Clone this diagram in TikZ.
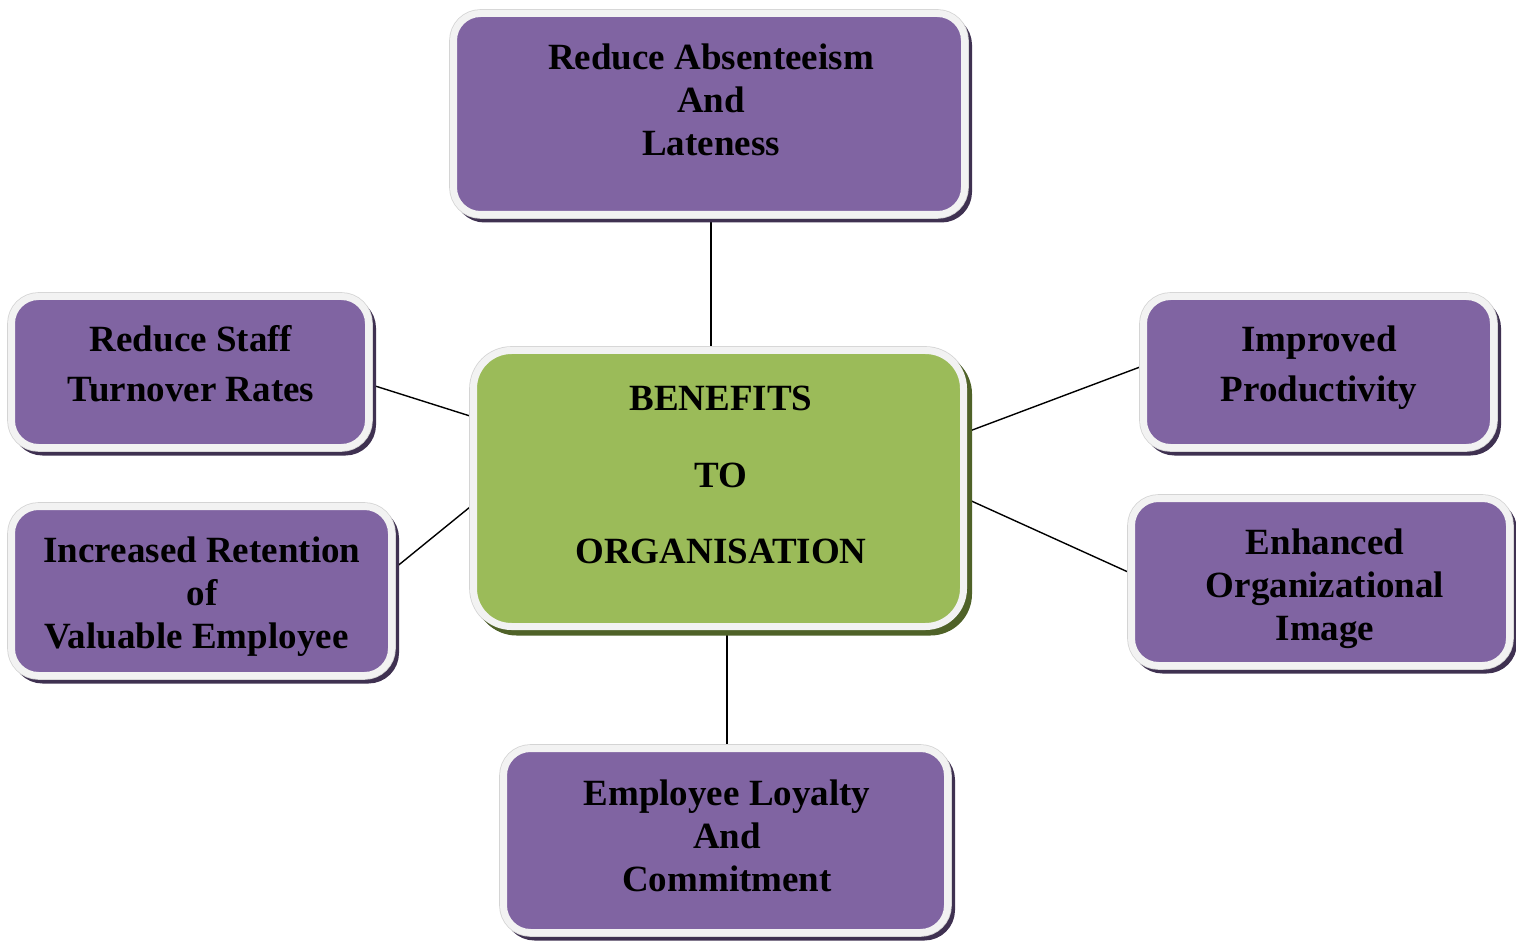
\documentclass[tikz,border=0pt]{standalone}
\usepackage{fontspec}
\setmainfont{Liberation Serif}
\usetikzlibrary{backgrounds}
\definecolor{boxpurple}{HTML}{8064A2}
\definecolor{purpleshadow}{HTML}{3F3151}
\definecolor{boxgreen}{HTML}{9BBB59}
\definecolor{greenshadow}{HTML}{4F6228}
\definecolor{ringcol}{HTML}{F2F2F2}
\definecolor{edgecol}{HTML}{D4D4D4}
\newcommand{\ls}{\rule[-9pt]{0pt}{36pt}}
\tikzset{
  framebox/.style={rectangle, rounded corners=27pt, inner sep=0pt,
    draw=ringcol, line width=7pt,
    preaction={draw=purpleshadow, fill=purpleshadow, line width=7pt,
      transform canvas={shift={(4pt,-4.5pt)}}},
    preaction={draw=edgecol, line width=8.6pt}},
  pbox/.style={framebox, fill=boxpurple},
  gbox/.style={framebox, fill=boxgreen, rounded corners=38pt,
    preaction={draw=greenshadow, fill=greenshadow, line width=7pt,
      transform canvas={shift={(5pt,-5.5pt)}}}},
  txt/.style={align=center, inner sep=0pt, font=\bfseries\fontsize{37}{43}\selectfont},
  ctxt/.style={align=center, inner sep=0pt, font=\bfseries\fontsize{37}{76.5}\selectfont},
  twotxt/.style={align=center, inner sep=0pt, font=\bfseries\fontsize{37}{50}\selectfont},
  link/.style={draw=black, line width=1.4pt}
}
\begin{document}
\begin{tikzpicture}[x=1pt,y=-1pt]
\useasboundingbox (0,0) rectangle (1516,941);
% boxes
\node[pbox, minimum width=511pt, minimum height=201pt] (top) at (709,114) {};
\node[gbox, minimum width=490pt, minimum height=276pt] (ctr) at (718.5,488.5) {};
\node[pbox, minimum width=357pt, minimum height=151pt] (lt) at (190,372) {};
\node[pbox, minimum width=380pt, minimum height=169pt] (lb) at (201.5,591) {};
\node[pbox, minimum width=350pt, minimum height=151pt] (rt) at (1318.5,372) {};
\node[pbox, minimum width=378pt, minimum height=167pt] (rb) at (1320.5,582) {};
\node[pbox, minimum width=444pt, minimum height=184pt] (bot) at (725.5,840.5) {};
% texts
\node[txt] (toptxt) at (711,104) {\ls Reduce Absenteeism\\\ls And\\\ls Lateness};
\node[ctxt] (ctrtxt) at (721,478) {\ls BENEFITS\\\ls TO\\\ls ORGANISATION};
\node[twotxt] (lttxt) at (191,367) {\ls Reduce Staff\\\ls Turnover Rates};
\node[txt] (lbtxt) at (202,596) {\ls Increased Retention\\\ls of\\\ls Valuable Employee\kern11pt\ls};
\node[twotxt] (rttxt) at (1319,367) {\ls Improved\\\ls Productivity};
\node[txt] (rbtxt) at (1325,588) {\ls Enhanced\\\ls Organizational\\\ls Image};
\node[txt] (bottxt) at (727,839.5) {\ls Employee Loyalty\\\ls And\\\ls Commitment};
% connectors
\begin{pgfonlayer}{background}
\draw[link] ([xshift=2pt]top.south) -- ([xshift=2pt]top.south |- ctr.north);
\draw[link] ([xshift=1.5pt]bot.north) -- ([xshift=1.5pt]bot.north |- ctr.south);
\draw[link] ([yshift=-13pt]lt.east) -- ([yshift=72.5pt]ctr.west);
\draw[link] ([yshift=23pt]lb.east) -- ([yshift=-18.5pt]ctr.west);
\draw[link] ([yshift=56.5pt]ctr.east) -- ([yshift=5pt]rt.west);
\draw[link] ([yshift=-10.5pt]ctr.east) -- ([yshift=10pt]rb.west);
\end{pgfonlayer}
\end{tikzpicture}
\end{document}
